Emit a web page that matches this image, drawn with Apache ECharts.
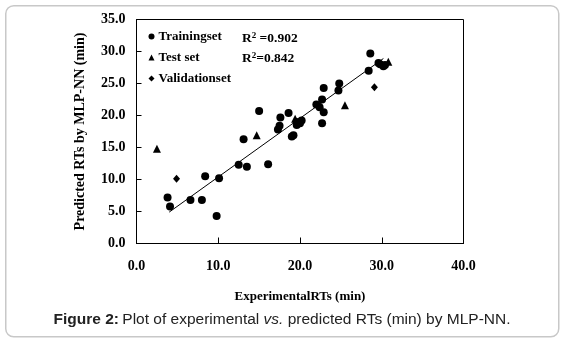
<!DOCTYPE html>
<html>
<head>
<meta charset="utf-8">
<script src="https://cdn.jsdelivr.net/npm/echarts@6/dist/echarts.min.js"></script>
<style>
  html, body { margin: 0; padding: 0; background: #fff; }
  #chart { width: 564px; height: 340px; }
</style>
</head>
<body>
<div id="chart"></div>
<script>
// experimental RT (x) vs predicted RT (y), minutes
var trainX = [3.8, 4.1, 6.6, 8.0, 8.4, 10.1, 9.8, 12.5, 13.5, 13.1, 15.0, 16.1, 17.3, 17.5, 17.6, 18.6, 19.0, 19.2,
  19.6, 19.6, 20.0, 20.2, 22.0, 22.4, 22.9, 22.7, 22.9, 22.7, 24.7, 24.8, 28.4, 28.6, 29.6, 29.8, 30.2, 30.4];
var trainY = [7.2, 5.8, 6.8, 6.8, 10.5, 10.2, 4.3, 12.3, 12.0, 16.3, 20.7, 12.4, 17.8, 18.4, 19.7, 20.4, 16.7, 16.9,
  18.5, 19.0, 18.8, 19.2, 21.7, 21.3, 20.5, 22.5, 24.3, 18.8, 23.9, 25.0, 27.0, 29.7, 28.2, 28.0, 27.7, 27.9];
var testX = [2.5, 14.7, 19.4, 25.5, 30.8];
var testY = [14.8, 16.9, 19.5, 21.6, 28.4];
var validX = [4.9, 29.1];
var validY = [10.1, 24.4];
var fitX = [4.0, 30.2];
var fitY = [4.9, 28.9];
var r2Labels = ['0.902', '0.842'];

function pairs(xs, ys) {
  var out = [];
  for (var i = 0; i < xs.length; i++) out.push([xs[i], ys[i]]);
  return out;
}

var serif = '"Liberation Serif", "Times New Roman", serif';
var sans = '"Liberation Sans", Arial, sans-serif';
var myChart = echarts.init(document.getElementById('chart'));
var r2Rich = {
  a: { fontFamily: serif, fontWeight: 'bold', fontSize: 13.5, fill: '#000' },
  s: { fontFamily: serif, fontWeight: 'bold', fontSize: 9, fill: '#000', padding: [0, 0, 6, 0] }
};
var option = {
  animation: false,
  grid: {
    left: 136.5, top: 19.5, right: 100.5, bottom: 96.5,
    show: true, borderColor: '#000', borderWidth: 1
  },
  legend: {
    orient: 'vertical',
    left: 148.5, top: 30, padding: 0,
    itemWidth: 6, itemHeight: 6, itemGap: 8,
    textStyle: { fontFamily: serif, fontWeight: 'bold', fontSize: 13, color: '#000', padding: [0, 0, 0, -1] },
    data: [
      { name: 'Trainingset', icon: 'circle' },
      { name: 'Test set', icon: 'triangle' },
      { name: 'Validationset', icon: 'diamond' }
    ]
  },
  xAxis: {
    type: 'value', min: 0, max: 40, interval: 10,
    name: 'ExperimentalRTs (min)', nameLocation: 'middle', nameGap: 47,
    nameTextStyle: { fontFamily: serif, fontWeight: 'bold', fontSize: 13, color: '#000' },
    axisLine: { lineStyle: { color: '#000' } },
    axisTick: { inside: true, length: 6, lineStyle: { color: '#000' } },
    axisLabel: {
      margin: 16, fontFamily: serif, fontWeight: 'bold', fontSize: 14, color: '#000',
      formatter: function (v) { return v.toFixed(1); }
    },
    splitLine: { show: false }
  },
  yAxis: {
    type: 'value', min: 0, max: 35, interval: 5,
    name: 'Predicted RTs by MLP-NN (min)', nameLocation: 'middle', nameGap: 49,
    nameTextStyle: { fontFamily: serif, fontWeight: 'bold', fontSize: 14, color: '#000' },
    axisLine: { lineStyle: { color: '#000' } },
    axisTick: { inside: true, length: 5, lineStyle: { color: '#000' } },
    axisLabel: {
      margin: 11, fontFamily: serif, fontWeight: 'bold', fontSize: 14, color: '#000',
      formatter: function (v) { return v.toFixed(1); }
    },
    splitLine: { show: false }
  },
  series: [
    {
      name: 'fit', type: 'line', data: pairs(fitX, fitY), showSymbol: false, silent: true,
      lineStyle: { color: '#000', width: 1 }, z: 1
    },
    {
      name: 'Trainingset', type: 'scatter', data: pairs(trainX, trainY),
      symbol: 'circle', symbolSize: 8, itemStyle: { color: '#000', opacity: 1 }, z: 3
    },
    {
      name: 'Test set', type: 'scatter', data: pairs(testX, testY),
      symbol: 'triangle', symbolSize: 8, itemStyle: { color: '#000', opacity: 1 }, z: 3
    },
    {
      name: 'Validationset', type: 'scatter', data: pairs(validX, validY),
      symbol: 'diamond', symbolSize: [7, 8], itemStyle: { color: '#000', opacity: 1 }, z: 3
    }
  ],
  graphic: [
    {
      type: 'rect', left: 5, top: 5, z: -10, silent: true,
      shape: { width: 553, height: 331, r: 8 },
      style: { fill: '#fff', stroke: '#c8c8c8', lineWidth: 1.5 }
    },
    {
      type: 'text', left: 242, top: 31,
      style: { text: '{a|R}{s|2}{a| =' + r2Labels[0] + '}', rich: r2Rich }
    },
    {
      type: 'text', left: 242, top: 51,
      style: { text: '{a|R}{s|2}{a|=' + r2Labels[1] + '}', rich: r2Rich }
    },
    {
      type: 'text', left: 'center', top: 312,
      style: {
        text: '{b|Figure 2:} {n|Plot of experimental }{i|vs.}{n| predicted RTs (min) by MLP-NN.}',
        rich: {
          b: { fontFamily: sans, fontWeight: 'bold', fontSize: 15.5, fill: '#222' },
          n: { fontFamily: sans, fontSize: 15.5, fill: '#222' },
          i: { fontFamily: sans, fontStyle: 'italic', fontSize: 15.5, fill: '#222' }
        }
      }
    }
  ]
};
myChart.setOption(option);
window.addEventListener('resize', function () {
  myChart.resize();
});
</script>
</body>
</html>
